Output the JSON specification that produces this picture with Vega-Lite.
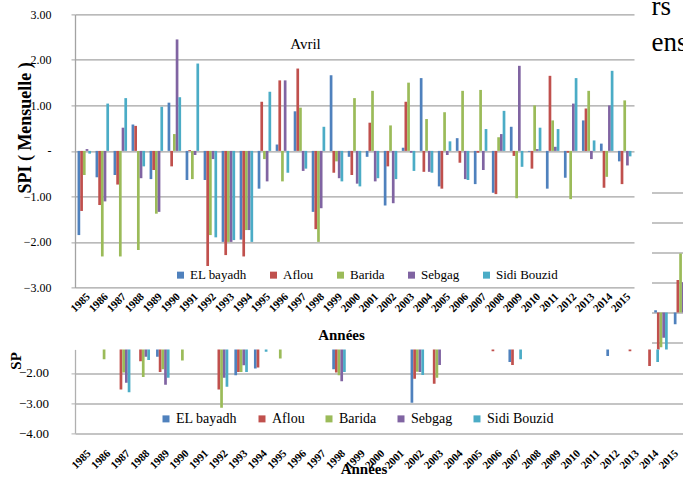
{
"$schema":"https://vega.github.io/schema/vega-lite/v6.json",
"background":"white",
"padding":{"left":8,"top":-7.6,"right":0,"bottom":0},
"config":{"view":{"stroke":null},"font":"Times New Roman","axis":{"labelFont":"Times New Roman","titleFont":"Times New Roman"},"legend":{"labelFont":"Times New Roman"},"title":{"font":"Times New Roman"}},
"datasets":{
"avril":[
{"year":1985,"station":"EL bayadh","spi":-1.85},{"year":1985,"station":"Aflou","spi":-1.32},{"year":1985,"station":"Barida","spi":-0.53},{"year":1985,"station":"Sebgag","spi":0.04},{"year":1985,"station":"Sidi Bouzid","spi":-0.06},
{"year":1986,"station":"EL bayadh","spi":-0.58},{"year":1986,"station":"Aflou","spi":-1.19},{"year":1986,"station":"Barida","spi":-2.32},{"year":1986,"station":"Sebgag","spi":-1.11},{"year":1986,"station":"Sidi Bouzid","spi":1.04},
{"year":1987,"station":"EL bayadh","spi":-0.53},{"year":1987,"station":"Aflou","spi":-0.74},{"year":1987,"station":"Barida","spi":-2.32},{"year":1987,"station":"Sebgag","spi":0.51},{"year":1987,"station":"Sidi Bouzid","spi":1.16},
{"year":1988,"station":"EL bayadh","spi":0.58},{"year":1988,"station":"Aflou","spi":0.55},{"year":1988,"station":"Barida","spi":-2.18},{"year":1988,"station":"Sebgag","spi":-0.6},{"year":1988,"station":"Sidi Bouzid","spi":-0.34},
{"year":1989,"station":"EL bayadh","spi":-0.62},{"year":1989,"station":"Aflou","spi":-0.42},{"year":1989,"station":"Barida","spi":-1.38},{"year":1989,"station":"Sebgag","spi":-1.34},{"year":1989,"station":"Sidi Bouzid","spi":0.97},
{"year":1990,"station":"EL bayadh","spi":1.06},{"year":1990,"station":"Aflou","spi":-0.34},{"year":1990,"station":"Barida","spi":0.37},{"year":1990,"station":"Sebgag","spi":2.45},{"year":1990,"station":"Sidi Bouzid","spi":1.18},
{"year":1991,"station":"EL bayadh","spi":-0.64},{"year":1991,"station":"Aflou","spi":0.02},{"year":1991,"station":"Barida","spi":-0.62},{"year":1991,"station":"Sebgag","spi":-0.09},{"year":1991,"station":"Sidi Bouzid","spi":1.92},
{"year":1992,"station":"EL bayadh","spi":-0.64},{"year":1992,"station":"Aflou","spi":-2.53},{"year":1992,"station":"Barida","spi":-1.85},{"year":1992,"station":"Sebgag","spi":-0.18},{"year":1992,"station":"Sidi Bouzid","spi":-1.9},
{"year":1993,"station":"EL bayadh","spi":-2.0},{"year":1993,"station":"Aflou","spi":-2.29},{"year":1993,"station":"Barida","spi":-2.0},{"year":1993,"station":"Sebgag","spi":-2.0},{"year":1993,"station":"Sidi Bouzid","spi":-1.96},
{"year":1994,"station":"EL bayadh","spi":-1.95},{"year":1994,"station":"Aflou","spi":-2.32},{"year":1994,"station":"Barida","spi":-1.74},{"year":1994,"station":"Sebgag","spi":-1.74},{"year":1994,"station":"Sidi Bouzid","spi":-2.0},
{"year":1995,"station":"EL bayadh","spi":-0.83},{"year":1995,"station":"Aflou","spi":1.08},{"year":1995,"station":"Barida","spi":-0.18},{"year":1995,"station":"Sebgag","spi":-0.67},{"year":1995,"station":"Sidi Bouzid","spi":1.3},
{"year":1996,"station":"EL bayadh","spi":0.14},{"year":1996,"station":"Aflou","spi":1.55},{"year":1996,"station":"Barida","spi":-0.67},{"year":1996,"station":"Sebgag","spi":1.55},{"year":1996,"station":"Sidi Bouzid","spi":-0.48},
{"year":1997,"station":"EL bayadh","spi":0.87},{"year":1997,"station":"Aflou","spi":1.81},{"year":1997,"station":"Barida","spi":0.95},{"year":1997,"station":"Sebgag","spi":-0.44},{"year":1997,"station":"Sidi Bouzid","spi":-0.39},
{"year":1998,"station":"EL bayadh","spi":-1.34},{"year":1998,"station":"Aflou","spi":-1.72},{"year":1998,"station":"Barida","spi":-2.0},{"year":1998,"station":"Sebgag","spi":-1.26},{"year":1998,"station":"Sidi Bouzid","spi":0.53},
{"year":1999,"station":"EL bayadh","spi":1.66},{"year":1999,"station":"Aflou","spi":-0.48},{"year":1999,"station":"Barida","spi":-0.23},{"year":1999,"station":"Sebgag","spi":-0.6},{"year":1999,"station":"Sidi Bouzid","spi":-0.67},
{"year":2000,"station":"EL bayadh","spi":-0.13},{"year":2000,"station":"Aflou","spi":-0.53},{"year":2000,"station":"Barida","spi":1.16},{"year":2000,"station":"Sebgag","spi":-0.72},{"year":2000,"station":"Sidi Bouzid","spi":-0.78},
{"year":2001,"station":"EL bayadh","spi":-0.13},{"year":2001,"station":"Aflou","spi":0.62},{"year":2001,"station":"Barida","spi":1.32},{"year":2001,"station":"Sebgag","spi":-0.67},{"year":2001,"station":"Sidi Bouzid","spi":-0.6},
{"year":2002,"station":"EL bayadh","spi":-1.2},{"year":2002,"station":"Aflou","spi":-0.34},{"year":2002,"station":"Barida","spi":0.56},{"year":2002,"station":"Sebgag","spi":-1.15},{"year":2002,"station":"Sidi Bouzid","spi":-0.62},
{"year":2003,"station":"EL bayadh","spi":0.07},{"year":2003,"station":"Aflou","spi":1.08},{"year":2003,"station":"Barida","spi":1.5},{"year":2003,"station":"Sebgag","spi":-0.04},{"year":2003,"station":"Sidi Bouzid","spi":-0.44},
{"year":2004,"station":"EL bayadh","spi":1.6},{"year":2004,"station":"Aflou","spi":-0.46},{"year":2004,"station":"Barida","spi":0.7},{"year":2004,"station":"Sebgag","spi":-0.46},{"year":2004,"station":"Sidi Bouzid","spi":-0.48},
{"year":2005,"station":"EL bayadh","spi":-0.78},{"year":2005,"station":"Aflou","spi":-0.83},{"year":2005,"station":"Barida","spi":0.85},{"year":2005,"station":"Sebgag","spi":-0.09},{"year":2005,"station":"Sidi Bouzid","spi":0.21},
{"year":2006,"station":"EL bayadh","spi":0.28},{"year":2006,"station":"Aflou","spi":-0.26},{"year":2006,"station":"Barida","spi":1.32},{"year":2006,"station":"Sebgag","spi":-0.62},{"year":2006,"station":"Sidi Bouzid","spi":-0.64},
{"year":2007,"station":"EL bayadh","spi":-0.73},{"year":2007,"station":"Aflou","spi":-0.04},{"year":2007,"station":"Barida","spi":1.34},{"year":2007,"station":"Sebgag","spi":-0.42},{"year":2007,"station":"Sidi Bouzid","spi":0.48},
{"year":2008,"station":"EL bayadh","spi":-0.92},{"year":2008,"station":"Aflou","spi":-0.95},{"year":2008,"station":"Barida","spi":0.3},{"year":2008,"station":"Sebgag","spi":0.37},{"year":2008,"station":"Sidi Bouzid","spi":0.88},
{"year":2009,"station":"EL bayadh","spi":0.53},{"year":2009,"station":"Aflou","spi":-0.11},{"year":2009,"station":"Barida","spi":-1.04},{"year":2009,"station":"Sebgag","spi":1.87},{"year":2009,"station":"Sidi Bouzid","spi":-0.35},
{"year":2010,"station":"EL bayadh","spi":-0.02},{"year":2010,"station":"Aflou","spi":-0.39},{"year":2010,"station":"Barida","spi":1.0},{"year":2010,"station":"Sebgag","spi":0.04},{"year":2010,"station":"Sidi Bouzid","spi":0.51},
{"year":2011,"station":"EL bayadh","spi":-0.83},{"year":2011,"station":"Aflou","spi":1.65},{"year":2011,"station":"Barida","spi":0.67},{"year":2011,"station":"Sebgag","spi":0.09},{"year":2011,"station":"Sidi Bouzid","spi":0.48},
{"year":2012,"station":"EL bayadh","spi":-0.59},{"year":2012,"station":"Aflou","spi":-0.04},{"year":2012,"station":"Barida","spi":-1.06},{"year":2012,"station":"Sebgag","spi":1.04},{"year":2012,"station":"Sidi Bouzid","spi":1.6},
{"year":2013,"station":"EL bayadh","spi":0.67},{"year":2013,"station":"Aflou","spi":0.93},{"year":2013,"station":"Barida","spi":1.32},{"year":2013,"station":"Sebgag","spi":-0.18},{"year":2013,"station":"Sidi Bouzid","spi":0.23},
{"year":2014,"station":"EL bayadh","spi":0.16},{"year":2014,"station":"Aflou","spi":-0.81},{"year":2014,"station":"Barida","spi":-0.57},{"year":2014,"station":"Sebgag","spi":1.0},{"year":2014,"station":"Sidi Bouzid","spi":1.76},
{"year":2015,"station":"EL bayadh","spi":-0.23},{"year":2015,"station":"Aflou","spi":-0.73},{"year":2015,"station":"Barida","spi":1.11},{"year":2015,"station":"Sebgag","spi":-0.32},{"year":2015,"station":"Sidi Bouzid","spi":-0.12}
],
"second":[
{"year":1986,"station":"Barida","spi":-1.55},
{"year":1987,"station":"Aflou","spi":-2.55},{"year":1987,"station":"Barida","spi":-1.99},{"year":1987,"station":"Sebgag","spi":-2.33},{"year":1987,"station":"Sidi Bouzid","spi":-2.64},
{"year":1988,"station":"Aflou","spi":-1.61},{"year":1988,"station":"Barida","spi":-2.14},{"year":1988,"station":"Sebgag","spi":-1.46},{"year":1988,"station":"Sidi Bouzid","spi":-1.57},
{"year":1989,"station":"EL bayadh","spi":-1.46},{"year":1989,"station":"Aflou","spi":-1.97},{"year":1989,"station":"Barida","spi":-1.88},{"year":1989,"station":"Sebgag","spi":-2.39},{"year":1989,"station":"Sidi Bouzid","spi":-2.16},
{"year":1990,"station":"Barida","spi":-1.59},
{"year":1992,"station":"Aflou","spi":-2.55},{"year":1992,"station":"Barida","spi":-3.16},{"year":1992,"station":"Sebgag","spi":-2.16},{"year":1992,"station":"Sidi Bouzid","spi":-2.46},
{"year":1993,"station":"EL bayadh","spi":-2.08},{"year":1993,"station":"Aflou","spi":-1.97},{"year":1993,"station":"Barida","spi":-1.97},{"year":1993,"station":"Sebgag","spi":-1.75},{"year":1993,"station":"Sidi Bouzid","spi":-1.97},
{"year":1994,"station":"EL bayadh","spi":-1.85},{"year":1994,"station":"Aflou","spi":-1.82},{"year":1994,"station":"Sidi Bouzid","spi":-1.3},
{"year":1995,"station":"Barida","spi":-1.52},
{"year":1998,"station":"EL bayadh","spi":-1.88},{"year":1998,"station":"Aflou","spi":-1.99},{"year":1998,"station":"Barida","spi":-2.08},{"year":1998,"station":"Sebgag","spi":-2.28},{"year":1998,"station":"Sidi Bouzid","spi":-1.97},
{"year":2002,"station":"EL bayadh","spi":-2.99},{"year":2002,"station":"Aflou","spi":-2.19},{"year":2002,"station":"Barida","spi":-1.96},{"year":2002,"station":"Sebgag","spi":-1.97},{"year":2002,"station":"Sidi Bouzid","spi":-2.07},
{"year":2003,"station":"Aflou","spi":-2.36},{"year":2003,"station":"Barida","spi":-2.16},{"year":2003,"station":"Sebgag","spi":-1.74},
{"year":2006,"station":"Aflou","spi":-1.28},
{"year":2007,"station":"EL bayadh","spi":-1.64},{"year":2007,"station":"Aflou","spi":-1.74},{"year":2007,"station":"Sidi Bouzid","spi":-1.55},
{"year":2012,"station":"EL bayadh","spi":-1.44},
{"year":2013,"station":"Aflou","spi":-1.28},
{"year":2014,"station":"EL bayadh","spi":0.08},{"year":2014,"station":"Aflou","spi":-1.77},{"year":2014,"station":"Barida","spi":-1.15},{"year":2014,"station":"Sebgag","spi":-0.83},{"year":2014,"station":"Sidi Bouzid","spi":-1.64},
{"year":2015,"station":"EL bayadh","spi":-0.39},{"year":2015,"station":"Aflou","spi":1.08},{"year":2015,"station":"Barida","spi":1.96},{"year":2015,"station":"Sebgag","spi":1.01},{"year":2015,"station":"Sidi Bouzid","spi":0.33}
]
},
"concat":[
{
"hconcat":[
{
"width":559,"height":273,
"data":{"name":"avril"},
"title":{"text":"Avril","anchor":"middle","frame":"group","orient":"top","baseline":"alphabetic","offset":-56,"dx":-49,"fontSize":15,"fontWeight":"normal","font":"Times New Roman","color":"black"},
"mark":{"type":"bar"},
"encoding":{
"x":{"field":"year","type":"ordinal","scale":{"domain":[1985,1986,1987,1988,1989,1990,1991,1992,1993,1994,1995,1996,1997,1998,1999,2000,2001,2002,2003,2004,2005,2006,2007,2008,2009,2010,2011,2012,2013,2014,2015],"paddingInner":0.25,"paddingOuter":0.14},
"axis":{"title":"Années","labelAngle":-45,"labelAlign":"right","labelBaseline":"top","labelOverlap":false,"labelFont":"Times New Roman","labelFontWeight":"bold","labelFontSize":11,"labelColor":"black","labelPadding":3,"ticks":false,"domain":false,"titleFont":"Times New Roman","titleFontSize":15,"titleFontWeight":"bold","titleColor":"black","titleX":266,"titleY":40,"titleBaseline":"top","titleAlign":"center"}},
"xOffset":{"field":"station","type":"nominal","scale":{"domain":["EL bayadh","Aflou","Barida","Sebgag","Sidi Bouzid"]}},
"y":{"field":"spi","type":"quantitative","scale":{"domain":[-3,3],"nice":false,"zero":false},
"axis":{"values":[-3,-2,-1,0,1,2,3],"grid":true,"gridColor":"#a3a3a3","gridWidth":1.3,"domain":true,"domainColor":"#a3a3a3","domainWidth":1.3,"ticks":true,"tickSize":4,"tickColor":"#a3a3a3","labelExpr":"datum.value == 0 ? '-\u00a0\u00a0' : format(datum.value, '.2f')","labelFont":"Times New Roman","labelFontSize":12,"labelColor":"black","labelPadding":20,"title":"SPI ( Mensuelle )","titleFont":"Times New Roman","titleFontSize":18,"titleFontWeight":"bold","titleColor":"black","titleAngle":-90,"titleX":-49.7,"titleY":113,"titleAlign":"center","titleBaseline":"middle"}},
"color":{"field":"station","type":"nominal","scale":{"domain":["EL bayadh","Aflou","Barida","Sebgag","Sidi Bouzid"],"range":["#4F81BD","#C0504D","#9BBB59","#8064A2","#4BACC6"]},
"legend":{"orient":"none","legendX":99,"legendY":254,"direction":"horizontal","columns":5,"title":null,"symbolType":"square","symbolSize":49,"symbolStrokeWidth":0,"labelFont":"Times New Roman","labelFontSize":13,"labelColor":"black","columnPadding":20,"labelOffset":3}}
}
},
{
"width":39.74,"height":335,
"data":{"name":"second"},
"transform":[{"filter":{"field":"year","oneOf":[2014,2015]}}],
"title":{"text":["rs","ens"],"anchor":"start","frame":"group","orient":"top","baseline":"top","offset":-42.4,"fontSize":27,"fontWeight":"normal","lineHeight":36,"font":"Times New Roman","color":"black"},
"mark":{"type":"bar","clip":true},
"encoding":{
"x":{"field":"year","type":"ordinal","scale":{"domain":[2014,2015],"paddingInner":0.25,"paddingOuter":0.14},"axis":null},
"xOffset":{"field":"station","type":"nominal","scale":{"domain":["EL bayadh","Aflou","Barida","Sebgag","Sidi Bouzid"]}},
"y":{"field":"spi","type":"quantitative","scale":{"domain":[-1.22,9.89],"nice":false,"zero":false},
"axis":{"values":[-1,0,1,2,3,4],"grid":true,"gridColor":"#b0b0b0","gridWidth":1.5,"labels":false,"ticks":false,"domain":false,"title":null}},
"color":{"field":"station","type":"nominal","scale":{"domain":["EL bayadh","Aflou","Barida","Sebgag","Sidi Bouzid"],"range":["#4F81BD","#C0504D","#9BBB59","#8064A2","#4BACC6"]},"legend":null}
}
}
],
"spacing":17.5,
"resolve":{"scale":{"color":"independent"},"legend":{"color":"independent"}}
},
{
"width":607.5,"height":83.8,
"data":{"name":"second"},
"mark":{"type":"bar","clip":true},
"encoding":{
"x":{"field":"year","type":"ordinal","scale":{"domain":[1985,1986,1987,1988,1989,1990,1991,1992,1993,1994,1995,1996,1997,1998,1999,2000,2001,2002,2003,2004,2005,2006,2007,2008,2009,2010,2011,2012,2013,2014,2015],"paddingInner":0.25,"paddingOuter":0.14},
"axis":{"title":"Années","labelAngle":-45,"labelAlign":"right","labelBaseline":"top","labelOverlap":false,"labelFont":"Times New Roman","labelFontWeight":"bold","labelFontSize":11,"labelColor":"black","labelPadding":14,"ticks":false,"domain":false,"titleFont":"Times New Roman","titleFontSize":15,"titleFontWeight":"bold","titleColor":"black","titleX":288.5,"titleY":28,"titleBaseline":"top","titleAlign":"center"}},
"xOffset":{"field":"station","type":"nominal","scale":{"domain":["EL bayadh","Aflou","Barida","Sebgag","Sidi Bouzid"]}},
"y":{"field":"spi","type":"quantitative","scale":{"domain":[-4,-1.22],"nice":false,"zero":false},
"axis":{"values":[-4,-3,-2],"grid":true,"gridColor":"#b0b0b0","gridWidth":1.5,"domain":true,"domainColor":"#b0b0b0","domainWidth":1.3,"ticks":true,"tickSize":4,"tickColor":"#b0b0b0","labelExpr":"format(datum.value, '.2f')","labelFont":"Times New Roman","labelFontSize":13,"labelColor":"black","labelPadding":22.5,"title":"SP","titleFont":"Times New Roman","titleFontSize":15,"titleFontWeight":"bold","titleColor":"black","titleAngle":-90,"titleX":-60,"titleY":11,"titleAlign":"center","titleBaseline":"middle"}},
"color":{"field":"station","type":"nominal","scale":{"domain":["EL bayadh","Aflou","Barida","Sebgag","Sidi Bouzid"],"range":["#4F81BD","#C0504D","#9BBB59","#8064A2","#4BACC6"]},
"legend":{"orient":"none","legendX":84,"legendY":62.5,"direction":"horizontal","columns":5,"title":null,"symbolType":"square","symbolSize":49,"symbolStrokeWidth":0,"labelFont":"Times New Roman","labelFontSize":14,"labelColor":"black","columnPadding":17,"labelOffset":3}}
}
}
],
"columns":1,
"align":"none",
"spacing":0,
"resolve":{"scale":{"color":"independent"},"legend":{"color":"independent"}}
}
